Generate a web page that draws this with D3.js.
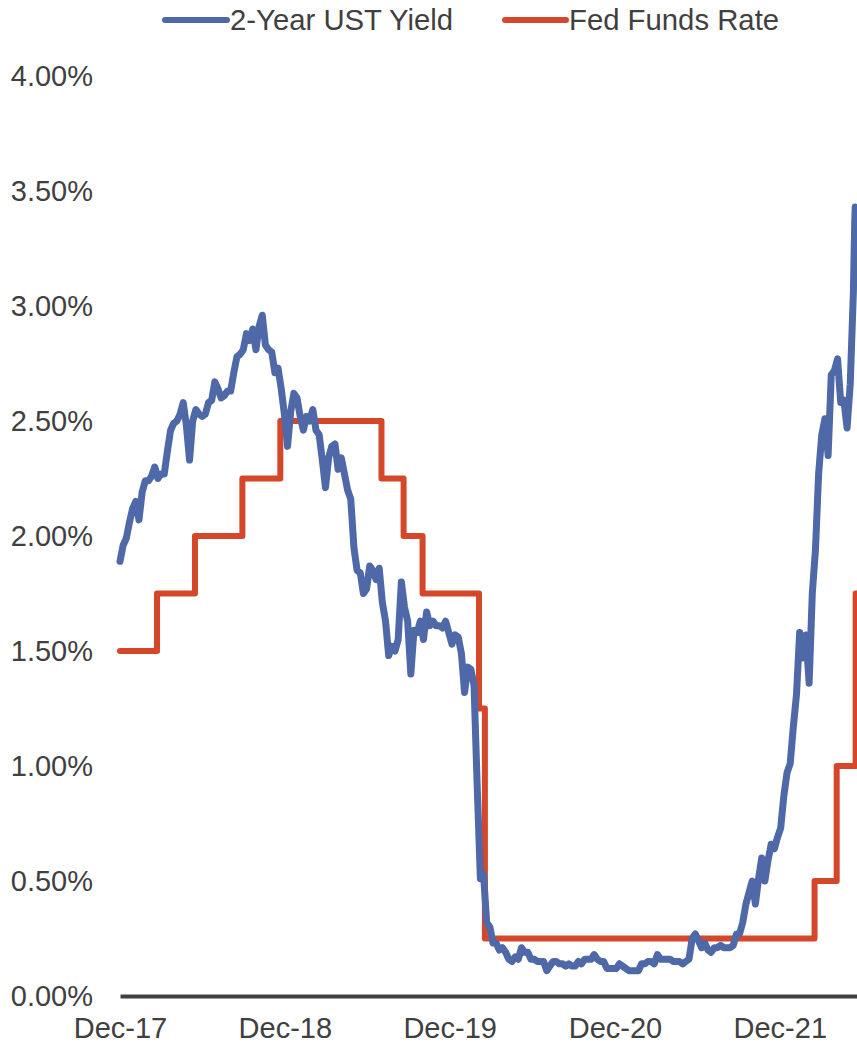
<!DOCTYPE html>
<html>
<head>
<meta charset="utf-8">
<script src="https://cdn.jsdelivr.net/npm/d3@7"></script>
<style>
  html, body { margin: 0; padding: 0; background: #ffffff; }
  svg { display: block; }
  text { font-family: "Liberation Sans", Arial, sans-serif; fill: #404040; }
</style>
</head>
<body>
<svg id="chart" width="857" height="1045"></svg>
<script>
// 2-year Treasury yield (%), weekly Friday closes starting 29 Dec 2017
const ustStart = "2017-12-29";
const ust2018 = [1.89, 1.96, 1.99, 2.06, 2.12, 2.15, 2.07, 2.19, 2.24, 2.24, 2.26, 2.30, 2.25,
  2.27, 2.27, 2.37, 2.46, 2.49, 2.50, 2.53, 2.58, 2.48, 2.33, 2.50, 2.55, 2.53, 2.52, 2.53,
  2.58, 2.59, 2.67, 2.64, 2.60, 2.61, 2.63, 2.63, 2.71, 2.78, 2.79, 2.81, 2.88, 2.85, 2.90,
  2.81, 2.91, 2.96, 2.83, 2.81, 2.80, 2.71, 2.73, 2.64, 2.53];
const ust2019 = [2.39, 2.54, 2.62, 2.60, 2.52, 2.46, 2.52, 2.50, 2.55, 2.46, 2.44, 2.33, 2.21,
  2.34, 2.39, 2.40, 2.29, 2.34, 2.27, 2.20, 2.16, 1.95, 1.85, 1.84, 1.75, 1.77, 1.87, 1.85,
  1.81, 1.86, 1.71, 1.63, 1.48, 1.52, 1.50, 1.55, 1.80, 1.69, 1.63, 1.40, 1.59, 1.58, 1.63,
  1.55, 1.67, 1.61, 1.63, 1.61, 1.61, 1.60, 1.63, 1.58];
const ust2020 = [1.53, 1.57, 1.56, 1.49, 1.32, 1.43, 1.42, 1.35, 0.91, 0.51, 0.53, 0.32, 0.30,
  0.23, 0.23, 0.20, 0.21, 0.19, 0.16, 0.15, 0.17, 0.16, 0.21, 0.19, 0.19, 0.16, 0.16, 0.15,
  0.15, 0.15, 0.11, 0.13, 0.15, 0.15, 0.14, 0.14, 0.13, 0.14, 0.13, 0.13, 0.15, 0.14, 0.16,
  0.16, 0.16, 0.18, 0.16, 0.15, 0.15, 0.12, 0.12, 0.12];
const ust2021 = [0.12, 0.14, 0.13, 0.12, 0.11, 0.11, 0.11, 0.11, 0.14, 0.14, 0.15, 0.15, 0.14,
  0.18, 0.16, 0.16, 0.16, 0.16, 0.15, 0.15, 0.15, 0.14, 0.15, 0.16, 0.25, 0.27, 0.24, 0.21,
  0.23, 0.20, 0.19, 0.21, 0.21, 0.22, 0.21, 0.21, 0.21, 0.22, 0.27, 0.27, 0.32, 0.40, 0.45,
  0.50, 0.40, 0.51, 0.60, 0.50, 0.59, 0.66, 0.64, 0.69, 0.73];
const ust2022 = [0.87, 0.97, 1.01, 1.17, 1.31, 1.58, 1.47, 1.57, 1.36, 1.75, 1.94, 2.27, 2.44,
  2.51, 2.35, 2.70, 2.72, 2.77, 2.58, 2.59, 2.47, 2.66, 3.06];
// final daily closes after the last weekly point
const ustTailDates = ["2022-06-13", "2022-06-14"];
const ustTailValues = [3.37, 3.43];

// Fed funds target rate (upper bound, %) and the dates it changed
const fedDates = ["2017-12-29", "2018-03-21", "2018-06-13", "2018-09-26", "2018-12-19",
  "2019-07-31", "2019-09-18", "2019-10-30", "2020-03-03", "2020-03-16",
  "2022-03-16", "2022-05-04", "2022-06-15"];
const fedValues = [1.50, 1.75, 2.00, 2.25, 2.50, 2.25, 2.00, 1.75, 1.25, 0.25, 0.50, 1.00, 1.75];

// axis labels
const xTickDates = ["2017-12-29", "2018-12-29", "2019-12-29", "2020-12-29", "2021-12-29"];
const yTickValues = [0, 0.5, 1, 1.5, 2, 2.5, 3, 3.5, 4];
const seriesNames = ["2-Year UST Yield", "Fed Funds Rate"];
const seriesColors = ["#4e68a8", "#d4472a"];

const parse = d3.timeParse("%Y-%m-%d");
const startDate = parse(ustStart);
const endDate = parse("2022-06-18");

const weekly = [].concat(ust2018, ust2019, ust2020, ust2021, ust2022);
const ustData = weekly.map((v, i) => ({ date: d3.timeDay.offset(startDate, 7 * i), value: v }))
  .concat(ustTailDates.map((d, i) => ({ date: parse(d), value: ustTailValues[i] })));

const fedData = fedDates.map((d, i) => ({ date: parse(d), value: fedValues[i] }));
fedData.push({ date: endDate, value: fedValues[fedValues.length - 1] });

const svg = d3.select("#chart");
svg.append("rect").attr("width", 857).attr("height", 1045).attr("fill", "#ffffff");

const x = d3.scaleTime().domain([startDate, endDate]).range([120, 857]);
const y = d3.scaleLinear().domain([0, 4]).range([996, 76]);

// y axis: labels only
const yAxis = d3.axisLeft(y)
  .tickValues(yTickValues)
  .tickSize(0)
  .tickPadding(27)
  .tickFormat(v => d3.format(".2%")(v / 100));
const gy = svg.append("g").attr("transform", "translate(120,0)").call(yAxis);
gy.select(".domain").remove();
gy.selectAll("text").attr("font-size", 29).attr("fill", "#404040")
  .style("font-family", "'Liberation Sans', Arial, sans-serif");

// series lines
const ustLine = d3.line().x(d => x(d.date)).y(d => y(d.value));
const fedLine = d3.line().x(d => x(d.date)).y(d => y(d.value)).curve(d3.curveStepAfter);

svg.append("path")
  .datum(fedData)
  .attr("d", fedLine)
  .attr("fill", "none")
  .attr("stroke", seriesColors[1])
  .attr("stroke-width", 6)
  .attr("stroke-linejoin", "round")
  .attr("stroke-linecap", "round");

svg.append("path")
  .datum(ustData)
  .attr("d", ustLine)
  .attr("fill", "none")
  .attr("stroke", seriesColors[0])
  .attr("stroke-width", 7)
  .attr("stroke-linejoin", "round")
  .attr("stroke-linecap", "round");

// x axis
const xAxis = d3.axisBottom(x)
  .tickValues(xTickDates.map(parse))
  .tickSize(0)
  .tickSizeOuter(0)
  .tickPadding(21)
  .tickFormat(d3.timeFormat("%b-%y"));
const gx = svg.append("g").attr("transform", "translate(0,996)").call(xAxis);
gx.select(".domain").attr("stroke", "#404040").attr("stroke-width", 4);
gx.selectAll("text").attr("font-size", 29).attr("fill", "#404040")
  .style("font-family", "'Liberation Sans', Arial, sans-serif");

// legend
const legendItems = [
  { name: seriesNames[0], color: seriesColors[0], x0: 165, x1: 227, tx: 230 },
  { name: seriesNames[1], color: seriesColors[1], x0: 505, x1: 566, tx: 569 }
];
const lg = svg.append("g");
legendItems.forEach(it => {
  lg.append("line")
    .attr("x1", it.x0).attr("x2", it.x1)
    .attr("y1", 20).attr("y2", 20)
    .attr("stroke", it.color)
    .attr("stroke-width", 6)
    .attr("stroke-linecap", "round");
  lg.append("text")
    .attr("x", it.tx).attr("y", 30)
    .attr("font-size", 29.3)
    .text(it.name);
});
</script>
</body>
</html>
